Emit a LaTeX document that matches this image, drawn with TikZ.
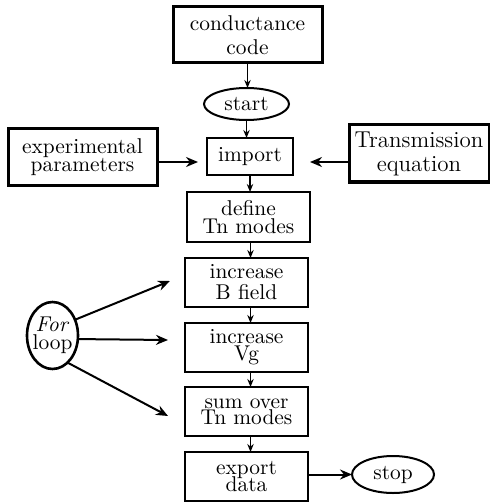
\documentclass[tikz,border=0pt]{standalone}
\usetikzlibrary{shapes.geometric,arrows.meta}
\newcommand\mytightfont[1]{\fontsize{10.7pt}{#1}\selectfont\lineskiplimit=-20pt\relax}
\begin{document}
\begin{tikzpicture}[x=0.5pt,y=-0.5pt,
  base/.style={draw, inner sep=0pt, outer sep=0pt, align=center},
  thickbox/.style={base, rectangle, line width=1.5pt},
  thinbox/.style={base, rectangle, line width=1pt},
  oval/.style={base, ellipse, line width=1pt},
  fs/.style={font=\mytightfont{#1}},
  big/.style={-{Stealth[length=6pt,width=5pt]}, line width=1pt},
  small/.style={-{Stealth[length=4pt,width=3.2pt]}, line width=0.7pt}]
\useasboundingbox (0,0) rectangle (490,502);

\node[thickbox, minimum width=74.5pt, minimum height=28pt, fs=12pt] (code) at (247.5,35) {conductance\\code};
\node[oval, minimum width=42.5pt, minimum height=16pt, fs=12pt] (start) at (246.5,104) {start};
\node[thinbox, minimum width=43pt, minimum height=18.5pt, fs=12pt] (import) at (250,156.5) {import};
\node[thickbox, minimum width=74.5pt, minimum height=28pt, fs=8.9pt] (exp) at (82.5,157) {experimental\\parameters};
\node[thickbox, minimum width=70pt, minimum height=28.5pt, font=\fontsize{11.5pt}{12pt}\selectfont] (trans) at (419,153.5) {Transmission\\equation};
\node[thinbox, minimum width=61.5pt, minimum height=25pt, fs=8.9pt] (define) at (248.5,217) {define\\Tn modes};
\node[thinbox, minimum width=61.5pt, minimum height=24.5pt, fs=10.5pt] (bfield) at (246.5,282.5) {increase\\B field};
\node[thinbox, minimum width=61.5pt, minimum height=24.5pt, fs=8.5pt] (vg) at (246.5,347.5) {increase\\Vg};
\node[thinbox, minimum width=61.5pt, minimum height=24.5pt, fs=8pt] (sum) at (246.5,411.5) {sum over\\Tn modes};
\node[thinbox, minimum width=61.5pt, minimum height=24.5pt, fs=8.3pt] (export) at (246.5,476.5) {export\\data};
\node[oval, minimum width=41pt, minimum height=18.5pt, fs=12pt] (stop) at (393,474.5) {stop};
\node[oval, line width=1.3pt, inner xsep=-2pt, minimum width=25.5pt, minimum height=33.5pt, fs=9pt] (for) at (52.5,335.5) {\textit{For}\\loop};

\draw[small] (code.south) -- (code.south |- start.north);
\draw[small] (start.south) -- (start.south |- import.north);
\draw[small] (import.south) -- (import.south |- define.north);
\draw[small] ([xshift=1pt]define.south) -- ([xshift=1pt]define.south |- bfield.north);
\draw[small] ([xshift=2pt]bfield.south) -- ([xshift=2pt]bfield.south |- vg.north);
\draw[small] ([xshift=2pt]vg.south) -- ([xshift=2pt]vg.south |- sum.north);
\draw[small] ([xshift=2pt]sum.south) -- ([xshift=2pt]sum.south |- export.north);

\coordinate (expTip) at (198,162);
\coordinate (transTip) at (310,162);
\draw[big] (exp.east |- expTip) -- (expTip);
\draw[big] (trans.west |- transTip) -- (transTip);
\draw[big] (export.east |- stop.west) -- (stop.west);

\coordinate (t1) at (170,281);
\coordinate (t2) at (168,340);
\coordinate (t3) at (168,416);
\draw[big] (for.35) -- (t1);
\draw[big] (for.-8) -- (t2);
\draw[big] (for.-61) -- (t3);
\end{tikzpicture}
\end{document}
